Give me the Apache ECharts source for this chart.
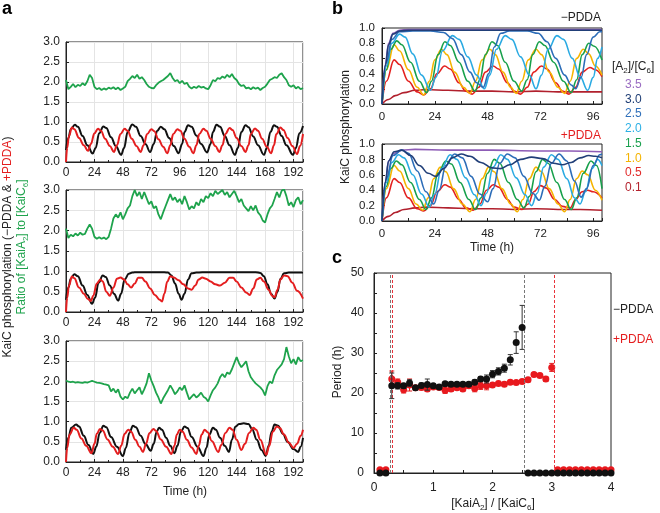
<!DOCTYPE html>
<html><head><meta charset="utf-8">
<script src="https://cdn.jsdelivr.net/npm/echarts@6/dist/echarts.min.js"></script>
<style>html,body{margin:0;padding:0;background:#fff}#c{width:660px;height:513px}</style>
</head><body><div id="c"></div>
<script>
const FONT = '"Liberation Sans", Arial, Helvetica, sans-serif';

// ---------- Panel a : time axis ----------
const aTickLabels = [0, 24, 48, 72, 96, 120, 144, 168, 192];
const greenStepHours = 2;
const green1 = [2.05,1.82,1.88,1.95,1.87,1.93,1.90,1.97,1.92,2.02,2.18,2.10,1.88,1.82,1.85,1.80,1.84,1.81,1.86,1.83,1.87,1.82,1.86,1.80,1.84,1.88,2.02,2.08,2.15,2.10,2.18,2.08,2.12,2.05,1.95,1.88,1.85,1.84,1.92,1.98,2.02,2.05,2.10,2.15,2.22,2.10,2.02,2.05,1.97,2.03,1.95,1.98,1.88,1.84,1.88,1.85,1.90,1.86,1.88,1.84,1.82,1.92,2.05,2.02,2.10,2.08,2.14,2.10,2.18,2.12,2.20,2.10,2.05,1.95,1.90,1.92,1.84,1.86,1.82,1.87,1.83,1.86,1.80,1.85,1.88,1.96,2.05,2.08,2.12,2.10,2.18,2.22,2.12,2.05,1.92,1.88,1.92,1.84,1.88,1.82,1.85];
const green2 = [2.05,1.82,1.90,1.86,1.93,1.88,1.95,1.90,1.92,2.05,2.15,2.05,1.85,1.80,1.84,1.80,1.83,1.79,1.85,2.05,2.30,2.40,2.32,2.45,2.28,2.40,2.55,2.62,2.85,3.00,2.85,2.95,2.78,2.95,2.80,2.65,2.72,2.55,2.60,2.40,2.28,2.45,2.60,2.75,2.90,2.75,2.82,2.70,2.78,2.65,2.85,2.70,2.52,2.60,2.55,2.70,2.62,2.78,2.70,2.85,2.80,2.92,2.85,2.98,2.90,2.95,3.00,2.88,2.95,2.82,2.90,2.98,2.85,2.70,2.78,2.62,2.55,2.48,2.60,2.50,2.62,2.45,2.38,2.25,2.20,2.40,2.55,2.62,2.78,2.95,2.82,2.98,3.02,2.85,2.62,2.70,2.58,2.75,2.82,2.65,2.75];
const green3 = [2.02,1.99,1.98,1.99,1.97,1.98,1.97,1.96,1.98,1.97,1.99,2.01,1.99,1.97,1.96,1.95,1.93,1.92,1.90,1.75,1.82,1.72,1.80,1.62,1.55,1.62,1.58,1.72,1.82,1.70,1.78,1.85,1.68,1.80,1.95,2.20,2.02,1.88,1.72,1.60,1.45,1.58,1.68,1.78,1.90,1.80,1.68,1.75,1.85,1.78,1.90,1.72,1.55,1.62,1.68,1.60,1.65,1.72,1.62,1.58,1.50,1.65,1.78,1.85,1.95,2.10,2.18,2.10,2.22,2.18,2.30,2.45,2.60,2.45,2.35,2.42,2.50,2.25,2.10,2.02,1.95,1.90,1.85,1.78,1.65,1.88,2.00,1.95,2.15,2.28,2.35,2.42,2.55,2.85,2.62,2.45,2.55,2.42,2.60,2.50,2.52];

const black1 = [[0,0.3],[2,0.6],[4,0.82],[7.5,0.93],[10,0.88],[14,0.65],[18,0.42],[22.5,0.21],[25,0.35],[28,0.72],[31.5,0.89],[34,0.85],[38,0.62],[42,0.4],[46.5,0.18],[49,0.35],[52,0.75],[56,0.94],[59,0.88],[63,0.65],[67,0.45],[71,0.25],[74,0.45],[77,0.78],[80,0.88],[83,0.82],[87,0.6],[91,0.4],[95,0.22],[98,0.45],[100,0.75],[103,0.92],[106,0.88],[110,0.66],[114,0.45],[119,0.24],[122,0.45],[124,0.75],[127,0.93],[130,0.88],[134,0.65],[138,0.42],[142.5,0.18],[145,0.35],[148,0.75],[151.5,0.92],[154,0.87],[158,0.64],[162,0.42],[167,0.18],[169.5,0.35],[172.5,0.75],[175.5,0.92],[178,0.88],[182,0.65],[186,0.42],[191.5,0.18],[194,0.35],[197,0.72],[200,0.9]];
const red1 = [[0,0],[1,0.35],[2.5,0.65],[5,0.86],[7,0.82],[11,0.6],[15,0.42],[18.5,0.28],[21,0.45],[24,0.72],[27,0.83],[29.5,0.78],[33,0.58],[37,0.4],[40.5,0.25],[43,0.42],[46,0.7],[49.5,0.83],[52,0.78],[55.5,0.58],[59.5,0.4],[63,0.25],[65.5,0.42],[68.5,0.7],[72,0.82],[74.5,0.77],[78,0.57],[82,0.38],[85.5,0.22],[88,0.42],[90.5,0.7],[94,0.82],[96.5,0.78],[100,0.58],[104,0.38],[107.5,0.22],[110,0.42],[112.5,0.7],[116,0.83],[118.5,0.78],[122,0.58],[126,0.4],[129.5,0.25],[132,0.42],[134.5,0.7],[138,0.85],[140.5,0.8],[144,0.6],[148,0.4],[151.5,0.25],[154,0.42],[156,0.7],[159.5,0.84],[162,0.78],[165.5,0.58],[169.5,0.38],[173,0.22],[175.5,0.42],[177.5,0.7],[181,0.86],[183.5,0.8],[187,0.6],[191,0.4],[195,0.2],[197.5,0.4],[200,0.7]];
const black2 = [[0,0.3],[2,0.6],[4,0.82],[7,0.93],[10,0.88],[14,0.65],[18,0.42],[22,0.2],[24.5,0.35],[27.5,0.72],[31,0.9],[33.5,0.86],[37,0.65],[40.5,0.45],[44,0.28],[46.5,0.45],[49.5,0.8],[53,0.94],[56,0.97],[60,0.98],[70,0.98],[80,0.98],[86,0.97],[89,0.9],[92,0.7],[95,0.45],[97.5,0.3],[100,0.45],[103,0.8],[106,0.95],[110,0.97],[120,0.98],[140,0.98],[160,0.98],[164,0.96],[167,0.88],[170,0.68],[173,0.45],[176,0.33],[178.5,0.5],[181,0.82],[184,0.95],[188,0.97],[200,0.97]];
const red2 = [[0,0],[1,0.35],[2.5,0.65],[5,0.87],[7,0.83],[11,0.6],[15,0.45],[18.5,0.32],[21,0.27],[23,0.4],[26,0.7],[29,0.8],[31,0.75],[34,0.5],[37,0.4],[40,0.6],[43,0.82],[46,0.85],[49,0.8],[52,0.68],[55,0.6],[58,0.7],[61,0.84],[64,0.84],[67,0.75],[71,0.58],[75,0.42],[79,0.3],[81,0.26],[83,0.45],[85.5,0.75],[88,0.88],[91,0.85],[95,0.78],[99,0.68],[103,0.58],[106,0.55],[109,0.65],[112,0.8],[115,0.85],[118,0.82],[122,0.75],[126,0.68],[130,0.65],[134,0.72],[138,0.84],[141,0.84],[144,0.75],[148,0.6],[152,0.48],[155,0.42],[158,0.58],[161,0.8],[164,0.84],[167,0.75],[171,0.55],[174,0.4],[176,0.36],[178.5,0.55],[181,0.8],[184,0.9],[187,0.88],[191,0.72],[195,0.52],[200,0.33]];
const black3 = [[0,0.3],[2,0.6],[4.5,0.85],[8.5,0.93],[11,0.88],[15,0.65],[19,0.42],[23,0.2],[25.5,0.38],[28.5,0.72],[31.5,0.9],[34,0.86],[38,0.62],[43,0.38],[48,0.15],[50.5,0.35],[53.5,0.72],[56.5,0.9],[59,0.86],[63,0.65],[67,0.45],[71.5,0.28],[74,0.45],[76.5,0.75],[78.5,0.85],[81,0.8],[84.5,0.6],[88,0.4],[91.5,0.22],[94,0.4],[97,0.75],[100,0.88],[102.5,0.84],[106,0.62],[111,0.38],[116,0.15],[118.5,0.35],[121,0.68],[124,0.85],[126.5,0.8],[130,0.6],[134,0.4],[137.5,0.25],[140,0.55],[143,0.88],[146,0.94],[150,0.96],[154,0.94],[157,0.82],[161,0.55],[165,0.3],[168.5,0.15],[171,0.4],[173.5,0.75],[176,0.93],[179,0.9],[183,0.7],[187,0.5],[192,0.32],[196,0.25],[198,0.38],[200,0.6]];
const red3 = [[0,0],[1,0.35],[3,0.68],[6.5,0.85],[9,0.8],[13,0.58],[17,0.4],[21.5,0.22],[24,0.45],[26,0.7],[28.7,0.82],[31,0.78],[35,0.56],[39.5,0.38],[44,0.2],[46.5,0.4],[49.5,0.7],[52.5,0.8],[55,0.75],[58.5,0.55],[62,0.38],[65,0.25],[67.5,0.45],[70.5,0.72],[73.7,0.82],[76,0.77],[80,0.56],[84.5,0.38],[89,0.2],[91.5,0.4],[93.5,0.68],[96,0.8],[98.5,0.75],[102,0.55],[106,0.36],[110,0.2],[112,0.4],[114.5,0.68],[117,0.8],[119.5,0.74],[123,0.52],[128.5,0.25],[131,0.42],[134.5,0.72],[138,0.85],[140.5,0.8],[144,0.55],[148,0.3],[151,0.45],[154.5,0.72],[158,0.85],[160.5,0.8],[164,0.55],[169,0.18],[171.5,0.4],[174.5,0.75],[178,0.88],[180.5,0.84],[184,0.68],[188,0.48],[192,0.35],[195,0.45],[198,0.65],[200,0.8]];

// ---------- Panel b : ratio series ----------
const bRatioLabels = ['3.5','3.0','2.5','2.0','1.5','1.0','0.5','0.1'];
const bColors = ['#8d5cb6','#213f78','#2c6db8','#2aaae2','#17a04b','#f6b400','#e3211f','#b1202d'];
const bLabelColors = ['#9a6cc2','#1f3e75','#3070ba','#2cb0e5','#1aa04e','#f5b400','#e12a2a','#b4232e'];
const bM35 = [[0,0],[1.5,0.52],[3,0.8],[5,0.93],[8,0.97],[12,0.98],[100,0.98]];
const bM30 = [[0,0],[1.5,0.5],[3,0.78],[5,0.92],[8,0.96],[12,0.97],[20,0.97],[40,0.97],[60,0.97],[80,0.97],[100,0.97]];
const bM25 = [[0,0],[2,0.55],[4.5,0.85],[8,0.95],[14,0.96],[22,0.96],[28,0.94],[32,0.86],[36,0.65],[40,0.42],[43,0.28],[46,0.22],[48.5,0.4],[51,0.75],[54,0.93],[58,0.96],[66,0.96],[71,0.93],[75,0.82],[79,0.6],[83,0.38],[86,0.25],[88,0.2],[90.5,0.35],[93,0.65],[96,0.88],[99,0.95],[100,0.95]];
const bM20 = [[0,0],[2,0.5],[4.5,0.8],[8,0.92],[10.5,0.88],[14,0.66],[18,0.38],[22,0.18],[24.5,0.35],[27.5,0.7],[32,0.9],[35,0.85],[39,0.62],[43,0.38],[46.5,0.2],[49,0.38],[52,0.72],[56,0.9],[59,0.85],[63,0.62],[67,0.38],[70,0.2],[72.5,0.38],[75.5,0.72],[79.5,0.9],[82.5,0.85],[86.5,0.6],[90,0.36],[93.5,0.18],[96,0.35],[98,0.6],[100,0.75]];
const bM15 = [[0,0],[2,0.45],[4,0.72],[6.7,0.83],[9,0.78],[13,0.55],[17,0.3],[20.3,0.15],[22.5,0.3],[25.5,0.65],[28.6,0.82],[31,0.77],[35,0.55],[39,0.3],[42.3,0.17],[44.5,0.32],[47,0.65],[50,0.82],[52.5,0.77],[56,0.55],[60,0.3],[63.5,0.17],[66,0.32],[68.5,0.65],[71.5,0.82],[74,0.77],[78,0.55],[82.5,0.3],[86,0.15],[88.5,0.32],[91,0.65],[94,0.8],[96.5,0.76],[100,0.58]];
const bM10 = [[0,0],[2,0.45],[5.5,0.78],[8,0.7],[12,0.45],[16,0.22],[19,0.12],[21.5,0.3],[24,0.58],[27,0.72],[29.5,0.65],[33,0.42],[37,0.22],[40,0.14],[42.5,0.3],[45.5,0.58],[49,0.72],[51.5,0.65],[55,0.42],[58.5,0.22],[61,0.14],[63.5,0.3],[66.5,0.58],[70,0.72],[72.5,0.65],[76,0.42],[80,0.22],[83,0.14],[85.5,0.3],[88.5,0.6],[91.5,0.72],[94,0.66],[97,0.5],[100,0.38]];
const bM05 = [[0,0],[2,0.3],[5.5,0.58],[8,0.52],[12,0.3],[16,0.16],[19,0.12],[22,0.2],[25,0.4],[28.5,0.5],[31,0.46],[35,0.28],[38,0.17],[41,0.13],[44,0.22],[47,0.42],[50.5,0.5],[53,0.46],[57,0.28],[60,0.17],[63,0.13],[66,0.22],[69,0.42],[72.5,0.5],[75,0.46],[79,0.28],[82,0.17],[85,0.13],[88,0.22],[91,0.42],[94.5,0.48],[97,0.45],[100,0.36]];
const bM01 = [[0,0],[3,0.06],[6,0.11],[10,0.15],[15,0.18],[20,0.19],[30,0.18],[40,0.17],[50,0.17],[60,0.16],[70,0.17],[80,0.16],[90,0.16],[100,0.16]];

const bP35 = [[0,0],[1.5,0.5],[3,0.78],[5.5,0.88],[9,0.92],[15,0.93],[30,0.92],[50,0.92],[70,0.91],[85,0.91],[100,0.9]];
const bP30 = [[0,0],[1.5,0.5],[3,0.78],[5.5,0.9],[9,0.92],[13,0.85],[17,0.72],[21,0.62],[24.5,0.58],[28,0.68],[32,0.82],[36,0.87],[40,0.84],[45,0.76],[50,0.69],[54,0.68],[58,0.73],[63,0.8],[68,0.83],[73,0.81],[78,0.75],[82,0.73],[86,0.76],[90,0.82],[94,0.85],[97,0.84],[100,0.82]];
const bP25 = [[0,0],[2,0.55],[5,0.85],[9,0.92],[12,0.88],[16,0.65],[20,0.38],[23.5,0.22],[26,0.4],[29,0.72],[33,0.87],[36.5,0.82],[40.5,0.58],[44.5,0.35],[48,0.25],[50.5,0.42],[53.5,0.75],[57,0.87],[60.5,0.82],[64.5,0.58],[68.5,0.36],[71.5,0.27],[74,0.45],[77,0.75],[80.5,0.87],[84,0.78],[87.5,0.52],[90.5,0.31],[93,0.42],[96,0.72],[99,0.86],[100,0.87]];
const bP20 = [[0,0],[2,0.5],[4.5,0.76],[7.5,0.86],[10,0.82],[14,0.6],[18,0.35],[21.5,0.18],[24,0.35],[27,0.68],[31,0.86],[34,0.8],[38,0.56],[42,0.34],[45,0.2],[47.5,0.36],[50.5,0.7],[54,0.86],[57,0.8],[61,0.56],[65,0.34],[68,0.2],[70.5,0.36],[73.5,0.7],[77,0.86],[80,0.8],[84,0.55],[87.5,0.3],[90,0.22],[92.5,0.38],[95.5,0.68],[98,0.8],[100,0.72]];
const bP15 = [[0,0],[2,0.45],[4,0.68],[6.5,0.78],[9,0.73],[13,0.5],[17,0.28],[20,0.15],[22.5,0.3],[25.5,0.62],[29,0.78],[31.5,0.74],[35.5,0.5],[39.5,0.28],[42.5,0.15],[45,0.3],[48,0.62],[51,0.8],[53.5,0.75],[57.5,0.5],[61.5,0.28],[64.5,0.17],[67,0.32],[70,0.64],[73,0.8],[75.5,0.75],[79.5,0.5],[83,0.28],[86,0.15],[88.5,0.3],[91.5,0.62],[95,0.78],[97.5,0.72],[100,0.42]];
const bP10 = [[0,0],[2,0.42],[5.5,0.72],[8,0.65],[12,0.42],[15.5,0.22],[18.5,0.14],[21,0.3],[23.5,0.55],[26.5,0.7],[29,0.64],[32.5,0.42],[36.5,0.22],[40,0.12],[42.5,0.28],[45.5,0.55],[48.5,0.7],[51,0.64],[54.5,0.42],[58.5,0.22],[61.5,0.12],[64,0.28],[67,0.55],[70,0.7],[72.5,0.64],[76,0.42],[80,0.22],[83,0.12],[85.5,0.28],[88.5,0.55],[91,0.65],[93.5,0.6],[97,0.4],[100,0.27]];
const bP05 = [[0,0],[2,0.3],[5.5,0.55],[8,0.5],[12,0.3],[16,0.16],[19,0.13],[22,0.2],[25,0.38],[28.6,0.47],[31,0.44],[35,0.28],[38,0.17],[41.5,0.14],[44.5,0.22],[47.5,0.4],[50.6,0.47],[53,0.44],[57,0.28],[60,0.18],[63.5,0.15],[66.5,0.22],[69,0.38],[72,0.46],[74.5,0.43],[78.5,0.28],[82,0.19],[85.5,0.17],[88,0.28],[91,0.38],[93.5,0.4],[96,0.38],[100,0.3]];
const bP01 = [[0,0],[3,0.06],[6,0.11],[10,0.15],[15,0.17],[20,0.18],[30,0.17],[40,0.16],[50,0.16],[60,0.15],[70,0.16],[80,0.15],[90,0.15],[100,0.14]];

// ---------- Panel c : period vs ratio ----------
const cRatio = [0.1,0.2,0.3,0.4,0.5,0.6,0.7,0.8,0.9,1.0,1.1,1.2,1.3,1.4,1.5,1.6,1.7,1.8,1.9,2.0,2.1,2.2,2.3,2.4,2.5,2.6,2.7,2.8,2.9,3.0,3.1,3.2,3.3,3.4,3.5,3.6,3.7,3.8,3.9,4.0];
const periodMinus = [0,0,21.8,21.8,21.8,22.5,21.3,21.9,22.1,21.8,21.5,22.3,22.2,22.2,22.2,22.2,22.7,23.5,23.5,24.7,25.4,26.2,28.3,32.6,36.4,0,0,0,0,0,0,0,0,0,0,0,0,0,0,0];
const errMinus = [0,0,3.2,0.8,0.6,0.8,0.5,0.6,1.4,0.5,0.5,0.5,0.5,0.5,0.5,0.5,0.6,0.6,1.0,0.9,0.9,1.0,1.3,2.7,5.5,0,0,0,0,0,0,0,0,0,0,0,0,0,0,0];
const periodPlus = [0.8,0.8,23.5,22.7,20.8,22.0,21.3,21.4,21.0,21.5,21.4,20.7,21.0,21.3,21.0,21.8,21.1,21.8,21.8,22.0,22.4,22.2,22.7,22.6,22.9,23.3,24.6,24.4,23.5,26.4,0.8,0.8,0.8,0.8,0.8,0.8,0.8,0.8,0.8,0.8];
const errPlus = [0,0,2.0,0.8,0.8,1.5,0.5,0.6,0.6,0.5,0.5,0.8,0.6,0.5,0.5,0.6,0.8,0.9,1.0,0.5,0.5,0.5,0.5,0.5,0.5,0.5,0.5,0.5,0.6,1.0,0,0,0,0,0,0,0,0,0,0];
const thresholdsMinus = [0.28, 2.54];
const thresholdsPlus = [0.3, 3.04];

// ---------- build ----------
const C_BLACK = '#111111', C_RED = '#e41e1f', C_GREEN = '#1ea34c', AX = '#222222';
const grids = [], xAxes = [], yAxes = [], series = [];

function baseAxis(extra) {
  return Object.assign({
    type: 'value',
    axisLine: { show: true, lineStyle: { color: AX, width: 1 } },
    axisTick: { show: true, inside: true, length: 3, lineStyle: { color: AX } },
    axisLabel: { color: AX, fontSize: 12, fontFamily: FONT },
    splitLine: { show: false }
  }, extra);
}

// panel a grids
const aLayout = [[42, 120], [190, 122], [341, 121]];
const aGreen = [green1, green2, green3], aBlack = [black1, black2, black3], aRed = [red1, red2, red3];
aLayout.forEach((g, i) => {
  grids.push({ left: 66, top: g[0], width: 237, height: g[1], show: true, borderColor: AX, borderWidth: 1 });
  xAxes.push(baseAxis({ gridIndex: i, min: 0, max: 200, interval: 24,
    minorTick: { show: true, splitNumber: 2, length: 2, lineStyle: { color: AX } },
    axisLabel: { color: AX, fontSize: 12, fontFamily: FONT, margin: 5,
      formatter: v => aTickLabels.indexOf(v) >= 0 ? String(v) : '' },
    splitLine: { show: true, lineStyle: { color: '#e4e4e4', width: 1 } } }));
  yAxes.push(baseAxis({ gridIndex: i, min: 0, max: 3, interval: 0.5,
    axisLabel: { color: AX, fontSize: 12, fontFamily: FONT, margin: 6, formatter: v => v.toFixed(1) },
    splitLine: { show: true, lineStyle: { color: '#e4e4e4', width: 1 } } }));
  series.push({ type: 'line', xAxisIndex: i, yAxisIndex: i, showSymbol: false, symbol: 'none',
    data: aGreen[i].map((v, k) => [k * greenStepHours, v]), lineStyle: { color: C_GREEN, width: 1.8 } });
  series.push({ type: 'line', xAxisIndex: i, yAxisIndex: i, showSymbol: false, symbol: 'none', smooth: 0.4, smoothMonotone: 'x',
    data: aBlack[i], lineStyle: { color: C_BLACK, width: 2 } });
  series.push({ type: 'line', xAxisIndex: i, yAxisIndex: i, showSymbol: false, symbol: 'none', smooth: 0.4, smoothMonotone: 'x',
    data: aRed[i], lineStyle: { color: C_RED, width: 2 } });
});

// panel b grids
const bLayout = [[28, 76], [144, 77]];
const bSets = [[bM35, bM30, bM25, bM20, bM15, bM10, bM05, bM01], [bP35, bP30, bP25, bP20, bP15, bP10, bP05, bP01]];
const bDrawOrder = [0, 7, 6, 5, 4, 3, 2, 1];
bLayout.forEach((g, j) => {
  const idx = 3 + j;
  grids.push({ left: 382, top: g[0], width: 220, height: g[1], show: true, borderColor: AX, borderWidth: 1 });
  xAxes.push(baseAxis({ gridIndex: idx, min: 0, max: 100, interval: 12,
    axisLabel: { color: AX, fontSize: 11.5, fontFamily: FONT, margin: 7,
      formatter: v => (v % 24 === 0 && v <= 96) ? String(v) : '' } }));
  yAxes.push(baseAxis({ gridIndex: idx, min: 0, max: 1, interval: 0.2,
    axisLabel: { color: AX, fontSize: 11.5, fontFamily: FONT, margin: 7, formatter: v => v.toFixed(1) } }));
  bDrawOrder.forEach(k => {
    series.push({ type: 'line', xAxisIndex: idx, yAxisIndex: idx, showSymbol: false, symbol: 'none', smooth: 0.4, smoothMonotone: 'x',
      data: bSets[j][k], lineStyle: { color: bColors[k], width: 1.6 } });
  });
});

// panel c grid
grids.push({ left: 374, top: 273, width: 237, height: 200, show: true, borderColor: AX, borderWidth: 1 });
xAxes.push(baseAxis({ gridIndex: 5, min: 0, max: 4, interval: 1,
  minorTick: { show: true, splitNumber: 2, length: 3, lineStyle: { color: AX } },
  axisLabel: { color: AX, fontSize: 12, fontFamily: FONT, margin: 9 } }));
yAxes.push(baseAxis({ gridIndex: 5, min: 0, max: 50, interval: 10,
  minorTick: { show: true, splitNumber: 2, length: 3, lineStyle: { color: AX } },
  axisLabel: { color: AX, fontSize: 12, fontFamily: FONT, margin: 10 } }));

function errRender(color) {
  return function (params, api) {
    const x = api.value(0), y = api.value(1), e = api.value(2);
    if (!e) return { type: 'group', children: [] };
    const t = api.coord([x, y + e]), b = api.coord([x, y - e]);
    const st = { stroke: color, lineWidth: 1 };
    return { type: 'group', children: [
      { type: 'line', shape: { x1: t[0], y1: t[1], x2: b[0], y2: b[1] }, style: st },
      { type: 'line', shape: { x1: t[0] - 2.5, y1: t[1], x2: t[0] + 2.5, y2: t[1] }, style: st },
      { type: 'line', shape: { x1: b[0] - 2.5, y1: b[1], x2: b[0] + 2.5, y2: b[1] }, style: st }
    ] };
  };
}
series.push({ type: 'line', xAxisIndex: 5, yAxisIndex: 5, data: [], silent: true,
  markLine: { symbol: 'none', silent: true, label: { show: false },
    data: thresholdsMinus.map(v => ({ xAxis: v, lineStyle: { color: '#777', type: [3, 2], width: 1 } }))
      .concat(thresholdsPlus.map(v => ({ xAxis: v, lineStyle: { color: '#e8323a', type: [3, 2], width: 1 } }))) } });
series.push({ type: 'custom', xAxisIndex: 5, yAxisIndex: 5, renderItem: errRender(C_RED),
  data: cRatio.map((r, i) => [r, periodPlus[i], errPlus[i]]), z: 3 });
series.push({ type: 'scatter', xAxisIndex: 5, yAxisIndex: 5, symbolSize: 7, clip: false,
  data: cRatio.map((r, i) => [r, periodPlus[i]]), itemStyle: { color: '#e8191e', opacity: 1 }, z: 4 });
series.push({ type: 'custom', xAxisIndex: 5, yAxisIndex: 5, renderItem: errRender('#333'),
  data: cRatio.map((r, i) => [r, periodMinus[i], errMinus[i]]), z: 5 });
series.push({ type: 'scatter', xAxisIndex: 5, yAxisIndex: 5, symbolSize: 7, clip: false,
  data: cRatio.map((r, i) => [r, periodMinus[i]]), itemStyle: { color: C_BLACK, opacity: 1 }, z: 6 });

// ---------- texts ----------
function txt(x, y, text, opt) {
  return Object.assign({ type: 'text', x: x, y: y, z: 100,
    style: Object.assign({ text: text, fill: AX, font: '12px ' + FONT, textAlign: 'center', textVerticalAlign: 'middle' }, opt && opt.style) },
    opt && opt.el);
}
const subRich = (color) => ({
  n: { fill: color, fontSize: 12, fontFamily: FONT, lineHeight: 16 },
  s: { fill: color, fontSize: 8, fontFamily: FONT, lineHeight: 8, verticalAlign: 'bottom' },
  r: { fill: C_RED, fontSize: 12, fontFamily: FONT, lineHeight: 16 }
});
const graphics = [
  txt(2, 9, 'a', { style: { font: 'bold 18px ' + FONT, textAlign: 'left', fill: '#000' } }),
  txt(332, 9, 'b', { style: { font: 'bold 18px ' + FONT, textAlign: 'left', fill: '#000' } }),
  txt(332, 258, 'c', { style: { font: 'bold 18px ' + FONT, textAlign: 'left', fill: '#000' } }),
  txt(8, 247, '{n|KaiC phosphorylation (\u2212PDDA & }{r|+PDDA}{n|)}', { el: { rotation: Math.PI / 2 }, style: { rich: subRich(AX) } }),
  txt(22, 247, '{n|Ratio of [KaiA}{s|2}{n|] to [KaiC}{s|6}{n|]}', { el: { rotation: Math.PI / 2 }, style: { rich: subRich(C_GREEN) } }),
  txt(185, 492, 'Time (h)'),
  txt(601, 18, '\u2212PDDA', { style: { textAlign: 'right' } }),
  txt(601, 136, '+PDDA', { style: { textAlign: 'right', fill: C_RED } }),
  txt(346, 127, 'KaiC phosphorylation', { el: { rotation: Math.PI / 2 } }),
  txt(492, 248, 'Time (h)'),
  txt(612, 67, '{n|[A}{s|2}{n|]/[C}{s|6}{n|]}', { style: { textAlign: 'left', rich: subRich(AX) } }),
  txt(338, 372, 'Period (h)', { el: { rotation: Math.PI / 2 } }),
  txt(493, 504, '{n|[KaiA}{s|2}{n|] / [KaiC}{s|6}{n|]}', { style: { rich: subRich(AX) } }),
  txt(613, 310, '\u2212PDDA', { style: { textAlign: 'left' } }),
  txt(613, 340, '+PDDA', { style: { textAlign: 'left', fill: C_RED } })
];
const legendY = [85, 99.5, 114, 128.5, 143.3, 158.3, 173, 187.7];
bRatioLabels.forEach((lab, k) => graphics.push(txt(625, legendY[k], lab, { style: { textAlign: 'left', fill: bLabelColors[k] } })));

const chart = echarts.init(document.getElementById('c'), null, { renderer: 'canvas' });
chart.setOption({
  animation: false,
  backgroundColor: '#ffffff',
  textStyle: { fontFamily: FONT },
  grid: grids, xAxis: xAxes, yAxis: yAxes, series: series, graphic: graphics
});
</script></body></html>
